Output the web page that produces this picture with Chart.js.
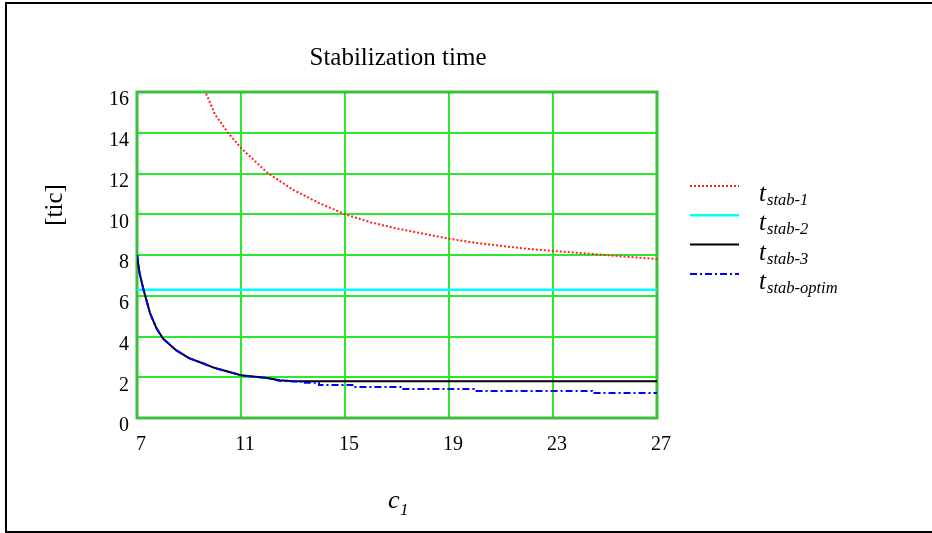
<!DOCTYPE html>
<html>
<head>
<meta charset="utf-8">
<script src="https://cdn.jsdelivr.net/npm/chart.js@4/dist/chart.umd.min.js"></script>
<style>
  html, body { margin: 0; padding: 0; background: #fff; }
  #wrap { position: relative; width: 932px; height: 533px; }
</style>
</head>
<body>
<div id="wrap"><canvas id="canvas" width="932" height="533"></canvas></div>
<script>
// axis ticks
var xTicks = [7, 11, 15, 19, 23, 27];
var yTicks = [0, 2, 4, 6, 8, 10, 12, 14, 16];

// t_stab-1 (red dotted)
var c1Stab1 = [9.6, 10, 10.5, 11, 12, 13, 14, 15, 16, 17, 18, 19, 20, 21, 22, 23, 24, 25, 26, 27];
var tStab1  = [16.1, 14.9, 14.0, 13.25, 12.05, 11.2, 10.55, 10.0, 9.6, 9.3, 9.05, 8.8, 8.6, 8.45, 8.3, 8.2, 8.1, 8.0, 7.9, 7.8];

// t_stab-2 (cyan, constant)
var c1Stab2 = [7, 27];
var tStab2  = [6.3, 6.3];

// t_stab-3 (black)
var c1Stab3 = [7, 7.1, 7.25, 7.5, 7.75, 8, 8.5, 9, 9.5, 10, 11, 12, 12.5, 13, 27];
var tStab3  = [8.0, 7.1, 6.3, 5.15, 4.4, 3.9, 3.33, 2.94, 2.7, 2.45, 2.1, 1.96, 1.85, 1.8, 1.8];

// t_stab-optim (blue dash-dot, steps down)
var c1Optim = [7, 7.1, 7.25, 7.5, 7.75, 8, 8.5, 9, 9.5, 10, 11, 12, 12.5, 13.3, 13.3, 14.0, 14.0, 15.4, 15.4, 17.2, 17.2, 19.95, 19.95, 24.5, 24.5, 27];
var tOptim  = [8.0, 7.1, 6.3, 5.15, 4.4, 3.9, 3.33, 2.94, 2.7, 2.45, 2.1, 1.96, 1.82, 1.78, 1.73, 1.73, 1.62, 1.62, 1.52, 1.52, 1.42, 1.42, 1.33, 1.33, 1.23, 1.23];

var legendSubs = ['stab-1', 'stab-2', 'stab-3', 'stab-optim'];

function toPoints(xs, ys){
    var pts = [];
    for(var i = 0; i < xs.length; i++){
        pts.push({x: xs[i], y: ys[i]});
    }
    return pts;
}

var serif = "'Liberation Serif', 'Times New Roman', serif";

// frame, titles and legend drawn on the canvas
var mathcadText = {
    id: 'mathcadText',
    beforeDatasetsDraw: function(chart){
        var ctx = chart.ctx, a = chart.chartArea;
        ctx.save();
        ctx.strokeStyle = '#3cbf3c';
        ctx.lineWidth = 3;
        ctx.strokeRect(a.left, a.top, a.right - a.left, a.bottom - a.top);
        ctx.restore();
    },
    afterDraw: function(chart){
        var ctx = chart.ctx;
        ctx.save();
        ctx.fillStyle = '#000';

        // page frame
        ctx.strokeStyle = '#000';
        ctx.lineWidth = 2;
        ctx.beginPath();
        ctx.moveTo(6, 533);
        ctx.lineTo(6, 3);
        ctx.lineTo(932, 3);
        ctx.moveTo(6, 532);
        ctx.lineTo(932, 532);
        ctx.stroke();

        // title
        ctx.font = '25px ' + serif;
        ctx.textAlign = 'center';
        ctx.textBaseline = 'middle';
        ctx.fillText('Stabilization time', 398, 58);

        // y label
        ctx.save();
        ctx.translate(55, 205);
        ctx.rotate(-Math.PI / 2);
        ctx.fillText('[tic]', 0, 0);
        ctx.restore();

        // x label c1
        ctx.textAlign = 'left';
        ctx.textBaseline = 'alphabetic';
        ctx.font = 'italic 26px ' + serif;
        ctx.fillText('c', 388, 508);
        ctx.font = 'italic 17px ' + serif;
        ctx.fillText('1', 400, 515);

        // legend
        var sets = chart.data.datasets;
        for(var i = 0; i < sets.length; i++){
            var ly = 186 + i * 29.3;
            ctx.save();
            ctx.strokeStyle = sets[i].borderColor;
            ctx.lineWidth = sets[i].borderWidth;
            ctx.setLineDash(sets[i].borderDash || []);
            ctx.beginPath();
            ctx.moveTo(690, ly);
            ctx.lineTo(739, ly);
            ctx.stroke();
            ctx.restore();

            ctx.font = 'italic 25px ' + serif;
            ctx.fillText('t', 759, ly + 15);
            ctx.font = 'italic 16.5px ' + serif;
            ctx.fillText(legendSubs[i], 767, ly + 19);
        }
        ctx.restore();
    }
};

var canvasCxt = document.getElementById('canvas').getContext('2d');
var stabChart = new Chart(canvasCxt, {
    type: 'scatter',
    data: {
        datasets: [{
            label: 't stab-1',
            data: toPoints(c1Stab1, tStab1),
            borderColor: '#ff2020',
            borderWidth: 2,
            borderDash: [2, 2],
            order: 4
        }, {
            label: 't stab-2',
            data: toPoints(c1Stab2, tStab2),
            borderColor: '#00ffff',
            borderWidth: 2.5,
            order: 3
        }, {
            label: 't stab-3',
            data: toPoints(c1Stab3, tStab3),
            borderColor: '#000000',
            borderWidth: 2,
            order: 2
        }, {
            label: 't stab-optim',
            data: toPoints(c1Optim, tOptim),
            borderColor: '#0000ff',
            borderWidth: 2,
            borderDash: [7, 3, 2, 3],
            order: 1
        }]
    },
    options: {
        responsive: false,
        animation: false,
        events: [],
        showLine: true,
        elements: {
            point: { radius: 0 },
            line: { tension: 0, fill: false }
        },
        layout: {
            padding: { left: 97, top: 92, right: 275, bottom: 75 }
        },
        plugins: {
            legend: { display: false },
            tooltip: { enabled: false },
            title: { display: false }
        },
        scales: {
            x: {
                type: 'linear',
                min: 7,
                max: 27,
                afterBuildTicks: function(scale){
                    scale.ticks = xTicks.map(function(v){ return {value: v}; });
                },
                afterFit: function(scale){ scale.height = 40; },
                grid: { color: '#2de82d', lineWidth: 2, drawTicks: false },
                border: { display: false },
                ticks: {
                    padding: 15,
                    labelOffset: 4,
                    maxRotation: 0,
                    color: '#000',
                    font: { family: serif, size: 20 }
                }
            },
            y: {
                type: 'linear',
                min: 0,
                max: 16,
                afterBuildTicks: function(scale){
                    scale.ticks = yTicks.map(function(v){ return {value: v}; });
                },
                afterFit: function(scale){ scale.width = 40; },
                grid: { color: '#2de82d', lineWidth: 2, drawTicks: false },
                border: { display: false },
                ticks: {
                    padding: 8,
                    labelOffset: 8,
                    color: '#000',
                    font: { family: serif, size: 20 }
                }
            }
        }
    },
    plugins: [mathcadText]
});
</script>
</body>
</html>
